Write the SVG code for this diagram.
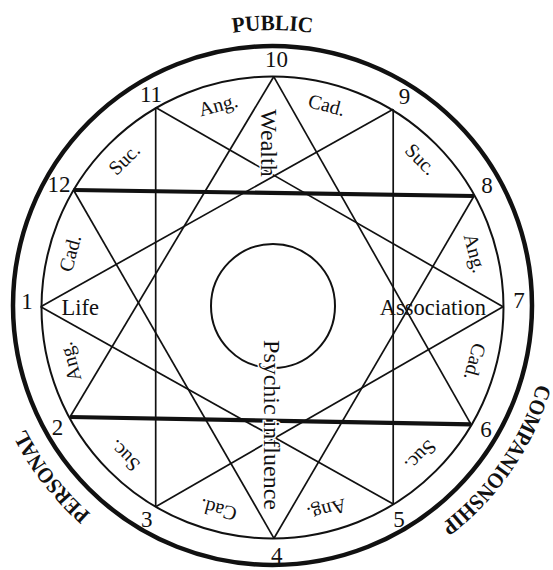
<svg xmlns="http://www.w3.org/2000/svg" width="553" height="570" viewBox="0 0 553 570">
<style>
.ring{fill:none;stroke:#111}
.thin{stroke:#111;stroke-width:1.7;fill:none}
.thick{stroke:#111;stroke-width:4.2}
.num{font-family:"Liberation Serif",serif;font-size:23px;fill:#111;text-anchor:middle}
.lab{font-family:"Liberation Serif",serif;font-size:20px;fill:#111;text-anchor:middle;dominant-baseline:central}
.big{font-family:"Liberation Serif",serif;font-size:22.5px;fill:#111}
.vert{font-family:"Liberation Serif",serif;font-size:24px;fill:#111;text-anchor:middle;dominant-baseline:central;stroke:#fff;stroke-width:3;paint-order:stroke}
.side{font-family:"Liberation Serif",serif;font-weight:bold;font-size:22px;fill:#111;text-anchor:middle}
</style>
<defs>
<path id="arc" d="M -3.5 306 A 276 276 0 1 1 548.5 306 A 276 276 0 1 1 -3.5 306"/>
</defs>
<rect width="553" height="570" fill="#fff"/>

<g id="outer-circle"><circle class="ring" cx="272.5" cy="305.5" r="259.5" stroke-width="4.5"/></g>
<g id="inner-circle"><circle class="ring" cx="272.5" cy="307.5" r="231" stroke-width="2"/></g>
<g id="center-circle"><circle class="ring" cx="273" cy="306" r="62" stroke-width="2"/></g>

<g id="connectors">
<line class="thin" x1="273.7" y1="76.7" x2="70" y2="417"/>
<line class="thin" x1="273.7" y1="76.7" x2="471" y2="424.3"/>
<line class="thick" x1="70" y1="417" x2="471" y2="424.3"/>
<line class="thin" x1="274" y1="538.3" x2="73.5" y2="190"/>
<line class="thin" x1="274" y1="538.3" x2="474" y2="196"/>
<line class="thick" x1="73.5" y1="190" x2="474" y2="196"/>
<line class="thin" x1="155.7" y1="107.5" x2="155.7" y2="506.7"/>
<line class="thin" x1="155.7" y1="107.5" x2="503" y2="306.7"/>
<line class="thin" x1="155.7" y1="506.7" x2="503" y2="306.7"/>
<line class="thin" x1="393.2" y1="109.3" x2="393.2" y2="504"/>
<line class="thin" x1="393.2" y1="109.3" x2="40.7" y2="306.7"/>
<line class="thin" x1="40.7" y1="306.7" x2="393.2" y2="504"/>
</g>

<g id="house-numbers">
<text class="num" x="276.5" y="66.5">10</text>
<text class="num" x="151" y="101.5">11</text>
<text class="num" x="59" y="192">12</text>
<text class="num" x="27" y="309">1</text>
<text class="num" x="57.5" y="435">2</text>
<text class="num" x="146.7" y="527">3</text>
<text class="num" x="276.7" y="563">4</text>
<text class="num" x="399" y="527">5</text>
<text class="num" x="486" y="437">6</text>
<text class="num" x="519" y="308">7</text>
<text class="num" x="487" y="193">8</text>
<text class="num" x="404.5" y="104">9</text>
</g>

<g id="house-types">
<text class="lab" transform="translate(218.1,104.7) rotate(-15)">Ang.</text>
<text class="lab" transform="translate(326.9,104.7) rotate(15)">Cad.</text>
<text class="lab" transform="translate(421,159) rotate(45)">Suc.</text>
<text class="lab" transform="translate(475.3,253.1) rotate(75)">Ang.</text>
<text class="lab" transform="translate(475.3,361.9) rotate(105)">Cad.</text>
<text class="lab" transform="translate(421,456) rotate(135)">Suc.</text>
<text class="lab" transform="translate(326.9,510.3) rotate(165)">Ang.</text>
<text class="lab" transform="translate(218.1,510.3) rotate(195)">Cad.</text>
<text class="lab" transform="translate(124,456) rotate(225)">Suc.</text>
<text class="lab" transform="translate(69.7,361.9) rotate(255)">Ang.</text>
<text class="lab" transform="translate(69.7,253.1) rotate(285)">Cad.</text>
<text class="lab" transform="translate(124,159) rotate(315)">Suc.</text>
</g>

<g id="life"><text class="big" x="61.5" y="314.5">Life</text></g>
<g id="association"><text class="big" x="486" y="314.5" text-anchor="end">Association</text></g>
<g id="wealth"><text class="vert" transform="translate(269,143) rotate(90)">Wealth</text></g>
<g id="psychic-influence"><text class="vert" transform="translate(272,425) rotate(90)">Psychic influence</text></g>

<g id="public"><text class="side"><textPath href="#arc" startOffset="25%" textLength="80" lengthAdjust="spacingAndGlyphs">PUBLIC</textPath></text></g>
<g id="companionship"><text class="side"><textPath href="#arc" startOffset="59.56%" textLength="174" lengthAdjust="spacingAndGlyphs">COMPANIONSHIP</textPath></text></g>
<g id="personal"><text class="side"><textPath href="#arc" startOffset="89.55%" textLength="108" lengthAdjust="spacingAndGlyphs">PERSONAL</textPath></text></g>
</svg>
